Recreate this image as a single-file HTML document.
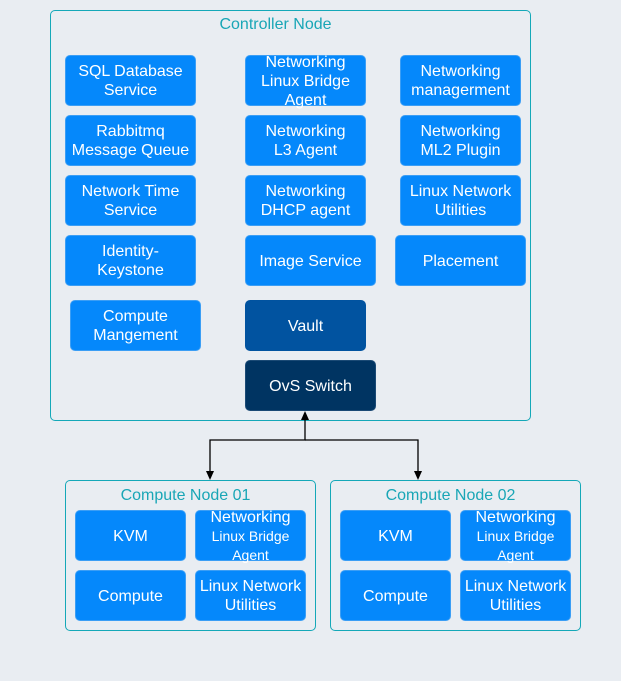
<!DOCTYPE html>
<html><head><style>
body{margin:0;width:621px;height:681px;background:#e9edf2;font-family:"Liberation Sans",sans-serif;position:relative;overflow:hidden}
.c{position:absolute;border:1px solid #14a8b8;border-radius:5px;box-sizing:border-box}
.t{position:absolute;color:#19a6b6;font-size:16px;text-align:center;white-space:nowrap}
.b{position:absolute;background:#0588fb;border:1px solid #3b9ef5;border-radius:5px;box-sizing:border-box;color:#fff;font-size:16px;line-height:19px;text-align:center;display:flex;align-items:center;justify-content:center;overflow:visible;white-space:nowrap;padding-top:1px}
.s{font-size:14px;line-height:19px}
</style></head><body>
<div class="c" style="left:50px;top:10px;width:481px;height:411px"></div>
<div class="t" style="left:50px;top:16px;width:451px">Controller Node</div>

<div class="b" style="left:65px;top:55px;width:131px;height:51px"><div>SQL Database<br>Service</div></div>
<div class="b" style="left:65px;top:115px;width:131px;height:51px"><div>Rabbitmq<br>Message Queue</div></div>
<div class="b" style="left:65px;top:175px;width:131px;height:51px"><div>Network Time<br>Service</div></div>
<div class="b" style="left:65px;top:235px;width:131px;height:51px"><div>Identity-<br>Keystone</div></div>
<div class="b" style="left:70px;top:300px;width:131px;height:51px"><div>Compute<br>Mangement</div></div>

<div class="b" style="left:245px;top:55px;width:121px;height:51px"><div>Networking<br>Linux Bridge<br>Agent</div></div>
<div class="b" style="left:245px;top:115px;width:121px;height:51px"><div>Networking<br>L3 Agent</div></div>
<div class="b" style="left:245px;top:175px;width:121px;height:51px"><div>Networking<br>DHCP agent</div></div>
<div class="b" style="left:245px;top:235px;width:131px;height:51px"><div>Image Service</div></div>
<div class="b" style="left:245px;top:300px;width:121px;height:51px;background:#0153a0;border-color:#0153a0"><div>Vault</div></div>
<div class="b" style="left:245px;top:360px;width:131px;height:51px;background:#003462;border-color:#1b4a75"><div>OvS Switch</div></div>

<div class="b" style="left:400px;top:55px;width:121px;height:51px"><div>Networking<br>managerment</div></div>
<div class="b" style="left:400px;top:115px;width:121px;height:51px"><div>Networking<br>ML2 Plugin</div></div>
<div class="b" style="left:400px;top:175px;width:121px;height:51px"><div>Linux Network<br>Utilities</div></div>
<div class="b" style="left:395px;top:235px;width:131px;height:51px"><div>Placement</div></div>

<svg style="position:absolute;left:0;top:0" width="621" height="681">
<polyline points="305,420 305,440 210,440 210,474" fill="none" stroke="#000" stroke-width="1.3"/>
<polyline points="305,440 418,440 418,474" fill="none" stroke="#000" stroke-width="1.3"/>
<polygon points="305,411 301,420 309,420" fill="#000"/>
<polygon points="210,480 206,471 214,471" fill="#000"/>
<polygon points="418,480 414,471 422,471" fill="#000"/>
</svg>

<div class="c" style="left:65px;top:480px;width:251px;height:151px"></div>
<div class="t" style="left:65px;top:487px;width:241px">Compute Node 01</div>
<div class="b" style="left:75px;top:510px;width:111px;height:51px"><div>KVM</div></div>
<div class="b" style="left:195px;top:510px;width:111px;height:51px"><div>Networking<br><span class="s">Linux Bridge</span><br><span class="s">Agent</span></div></div>
<div class="b" style="left:75px;top:570px;width:111px;height:51px"><div>Compute</div></div>
<div class="b" style="left:195px;top:570px;width:111px;height:51px"><div>Linux Network<br>Utilities</div></div>

<div class="c" style="left:330px;top:480px;width:251px;height:151px"></div>
<div class="t" style="left:330px;top:487px;width:241px">Compute Node 02</div>
<div class="b" style="left:340px;top:510px;width:111px;height:51px"><div>KVM</div></div>
<div class="b" style="left:460px;top:510px;width:111px;height:51px"><div>Networking<br><span class="s">Linux Bridge</span><br><span class="s">Agent</span></div></div>
<div class="b" style="left:340px;top:570px;width:111px;height:51px"><div>Compute</div></div>
<div class="b" style="left:460px;top:570px;width:111px;height:51px"><div>Linux Network<br>Utilities</div></div>
</body></html>
